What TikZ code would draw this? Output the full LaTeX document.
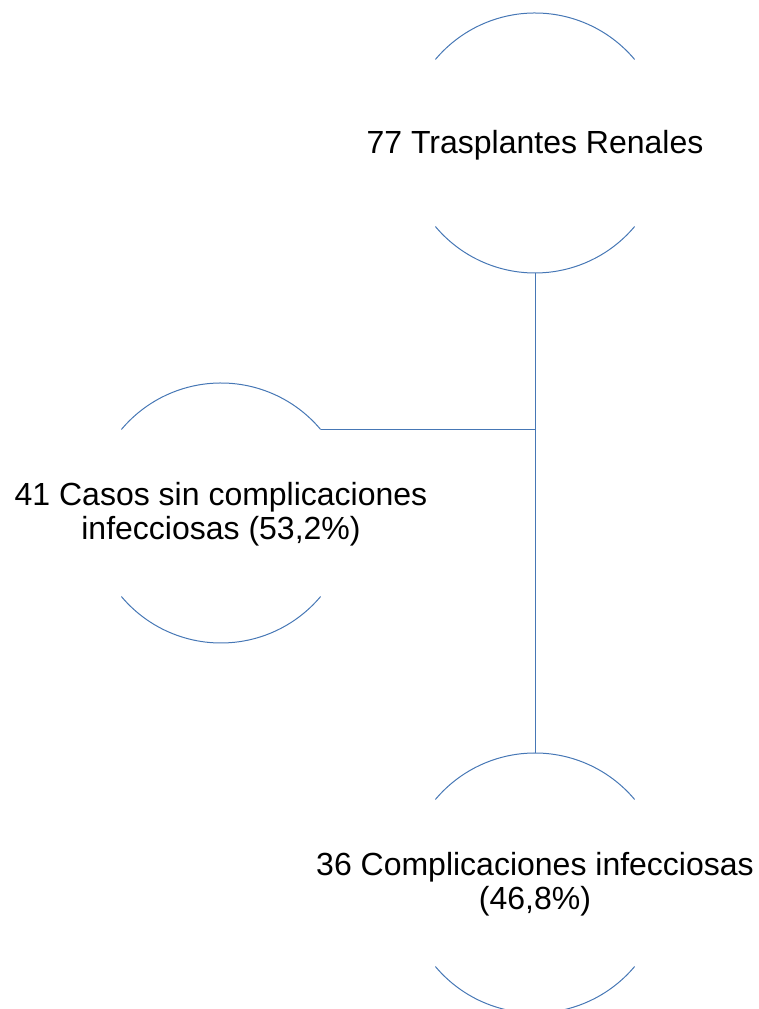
\documentclass[tikz,border=0pt]{standalone}
\usepackage{fontspec}
\setmainfont{Liberation Sans}
\definecolor{arcblue}{HTML}{4677B5}
\begin{document}
\begin{tikzpicture}[x=1pt,y=1pt,
  arcline/.style={draw=arcblue,line width=1pt},
  conn/.style={draw=arcblue,line width=1pt},
  lbl/.style={align=center,inner sep=0pt,font=\fontsize{32}{33.5}\selectfont}]
\useasboundingbox (0,0) rectangle (758,1009);
% circle centres
\coordinate (c1) at (535,866);
\coordinate (c2) at (221,496);
\coordinate (c3) at (535,126);
% labels
\node[lbl] (t1) at ([yshift=-2]c1) {77 Trasplantes Renales};
\node[lbl] (t2) at ([yshift=-1]c2) {41 Casos sin complicaciones\\infecciosas (53,2\%)};
\node[lbl] (t3) at ([yshift=-1]c3) {36 Complicaciones infecciosas\\(46,8\%)};
% arcs (top and bottom parts of each circle)
\foreach \c in {c1,c2,c3}{
  \draw[arcline] ([shift={(40:130)}]\c) arc[start angle=40,end angle=140,radius=130];
  \draw[arcline] ([shift={(220:130)}]\c) arc[start angle=220,end angle=320,radius=130];
}
% connector anchor points
\coordinate (c1s) at ([yshift=-130]c1);
\coordinate (c3n) at ([yshift=130]c3);
\coordinate (c2e) at ([shift={(40:130)}]c2);
\coordinate (j) at (c2e -| c1s);
\draw[conn] (c1s) -- (c3n);
\draw[conn] (c2e) -- (j);
\end{tikzpicture}
\end{document}
